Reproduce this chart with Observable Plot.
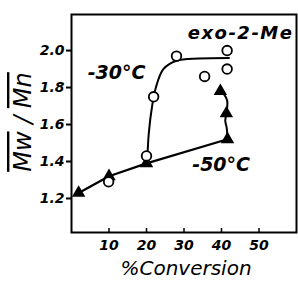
<!DOCTYPE html>
<html><head><meta charset="utf-8">
<script src="https://cdn.jsdelivr.net/npm/d3@7"></script>
<script src="https://cdn.jsdelivr.net/npm/@observablehq/plot@0.6"></script>
<style>body{margin:0;background:#fff}</style>
</head><body><div id="chart"></div>
<script>
const xTicks = [10, 20, 30, 40, 50];
const yTicks = [1.2, 1.4, 1.6, 1.8, 2.0];
const circles30 = [[9.9,1.29],[20,1.43],[21.9,1.75],[28,1.97],[35.5,1.86],[41.5,2.0],[41.5,1.90]];
const triangles50 = [[1.9,1.23],[10,1.32],[20,1.39],[41.6,1.52],[41.3,1.66],[39.7,1.78]];
const curve30 = [[20.2,1.40],[20.6,1.55],[21.5,1.70],[22.5,1.80],[24.5,1.90],[28,1.945],[34,1.957],[42,1.96]];
const line50a = [[1.9,1.23],[10,1.32],[20,1.39],[41.6,1.52]];
const line50b = [[41.6,1.52],[41.4,1.58],[41.0,1.62],[41.3,1.66],[41.5,1.73],[40,1.78]];
const labels = [
  {x: 4.3, y: 1.88, text: "-30°C"},
  {x: 32.2, y: 1.38, text: "-50°C"}
];

const font = "'DejaVu Sans', sans-serif";
const chart = Plot.plot({
  width: 298, height: 282,
  marginLeft: 71, marginRight: 2, marginTop: 14, marginBottom: 50,
  x: {domain: [0, 60]},
  y: {domain: [1.016, 2.195]},
  style: {fontFamily: font, background: "#fff"},
  marks: [
    Plot.frame({stroke: "#000", strokeWidth: 2}),
    Plot.axisX({ticks: xTicks, tickSize: -4, tickPadding: 12, label: null, fontSize: 14, fontStyle: "italic", fontWeight: "bold", strokeWidth: 1.5}),
    Plot.axisY({ticks: yTicks, tickSize: 5, tickPadding: 2, label: null, fontSize: 14, fontStyle: "italic", fontWeight: "bold", strokeWidth: 2, tickFormat: d => d.toFixed(1)}),
    Plot.line(curve30, {x: d => d[0], y: d => d[1], curve: "catmull-rom", stroke: "#000", strokeWidth: 2}),
    Plot.line(line50a, {x: d => d[0], y: d => d[1], stroke: "#000", strokeWidth: 2.2}),
    Plot.line(line50b, {x: d => d[0], y: d => d[1], curve: "catmull-rom", stroke: "#000", strokeWidth: 2}),
    Plot.dot(triangles50, {x: d => d[0], y: d => d[1], symbol: "triangle", r: 5, fill: "#000"}),
    Plot.dot(circles30, {x: d => d[0], y: d => d[1], r: 4.8, fill: "#fff", stroke: "#000", strokeWidth: 1.8}),
    Plot.text(labels, {x: "x", y: "y", text: "text", fontSize: 19, fontStyle: "italic", textAnchor: "start", fill: "#000", className: "templabel"}),
    Plot.text(["exo-2-Me"], {frameAnchor: "top-right", dx: -3, dy: 12, text: d => d, fontSize: 18, fontStyle: "italic", textDecoration: "underline", fill: "#000", className: "exolabel"}),
    Plot.text(["%Conversion"], {frameAnchor: "bottom", dy: 42, dx: 2, text: d => d, fontSize: 20, fontStyle: "italic", fill: "#000"})
  ]
});
document.getElementById("chart").appendChild(chart);
const svg = d3.select(chart);
svg.selectAll(".exolabel text").attr("letter-spacing", 1.5).attr("font-weight", 600);
svg.selectAll(".templabel text").attr("font-weight", 600);
const t = svg.append("text")
  .attr("transform", "translate(31,122) rotate(-90)")
  .attr("text-anchor", "middle")
  .attr("font-family", font).attr("font-size", 24).attr("font-style", "italic");
t.append("tspan").attr("text-decoration", "overline").text("Mw");
t.append("tspan").text(" / ");
t.append("tspan").attr("text-decoration", "overline").text("Mn");
</script></body></html>
